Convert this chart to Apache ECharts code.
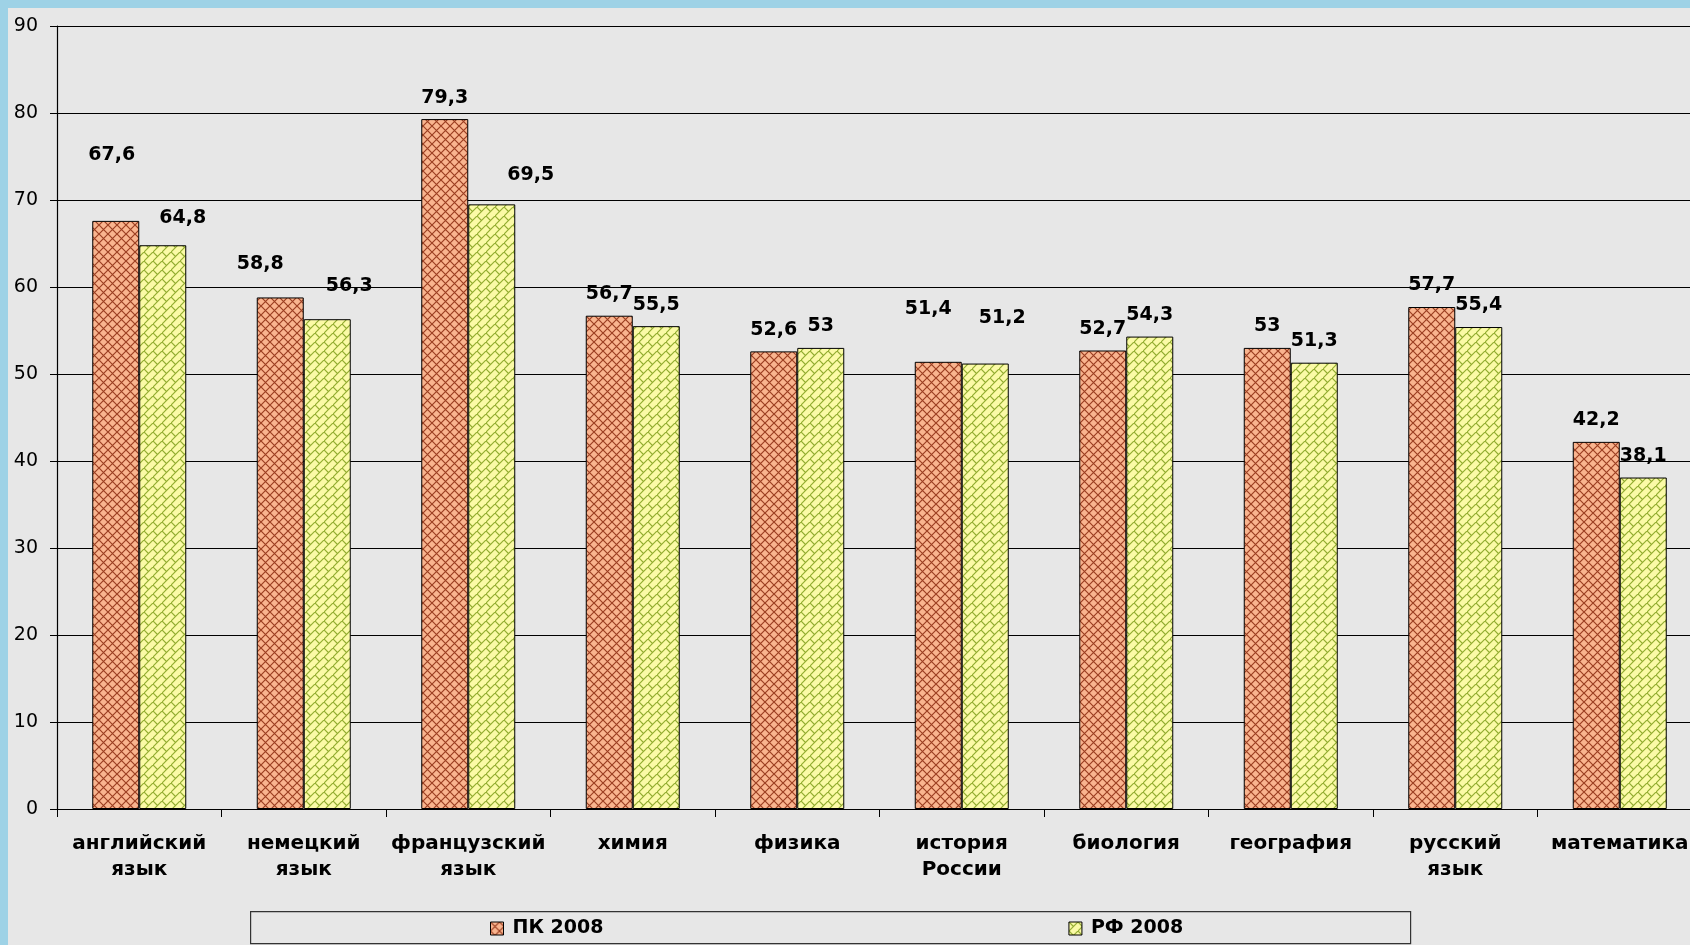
<!DOCTYPE html>
<html>
<head>
<meta charset="utf-8">
<script src="https://cdn.jsdelivr.net/npm/echarts@6/dist/echarts.min.js"></script>
<style>
html,body{margin:0;padding:0;width:1690px;height:945px;overflow:hidden;background:#9ed2e6;}
#bg{position:absolute;left:8px;top:8px;width:1682px;height:937px;background:#e7e7e7;}
#chart{position:absolute;left:0;top:0;width:1730px;height:945px;}
</style>
</head>
<body>
<div id="bg"></div>
<div id="chart"></div>
<script>
// ---- data ----
const categories = ['английский\nязык','немецкий\nязык','французский\nязык','химия','физика','история\nРоссии','биология','география','русский\nязык','математика'];
const seriesNames = ['ПК 2008','РФ 2008'];
const pk2008 = [67.6, 58.8, 79.3, 56.7, 52.6, 51.4, 52.7, 53, 57.7, 42.2];
const rf2008 = [64.8, 56.3, 69.5, 55.5, 53, 51.2, 54.3, 51.3, 55.4, 38.1];
const yTicks = [0,10,20,30,40,50,60,70,80,90];

// ---- label nudges (style, relative offsets in px) ----
const pkLabelShift = [[-4,-44],[-20,-12],[0,0],[0,0],[0,0],[-10,-31],[0,0],[0,0],[0,0],[0,0]];
const rfLabelShift = [[20,-6],[22,-12],[39,-8],[0,0],[0,0],[17,-24],[0,0],[0,0],[0,0],[0,0]];

function makePattern(bg, line, kind){
  const c = document.createElement('canvas');
  const s = 9;
  c.width = s; c.height = s;
  const g = c.getContext('2d');
  g.fillStyle = bg; g.fillRect(0,0,s,s);
  g.strokeStyle = line; g.lineWidth = 1.2;
  g.beginPath();
  if (kind === 'cross'){
    g.moveTo(-1,-1); g.lineTo(s+1,s+1);
    g.moveTo(-1,s+1); g.lineTo(s+1,-1);
  } else {
    g.moveTo(-1,s+1); g.lineTo(s+1,-1);
    g.moveTo(0,0); g.lineTo(4.5,4.5);
  }
  g.stroke();
  return {image: c, repeat: 'repeat'};
}
const pkFill = makePattern('#f9b48e', '#9c3f22', 'cross');
const rfFill = makePattern('#fbfaa6', '#93ad30', 'brick');

const fmt = p => String(p.value).replace('.', ',');
function build(vals, shifts){
  return vals.map((v,i) => ({value: v, label: {offset: shifts[i]}}));
}

const font = 'DejaVu Sans';
const chart = echarts.init(document.getElementById('chart'), null, {renderer:'canvas'});
chart.setOption({
  backgroundColor: 'transparent',
  animation: false,
  textStyle: {fontFamily: font},
  grid: {left: 57, top: 26, width: 1645, height: 783, containLabel: false},
  graphic: [{
    type: 'rect', left: 250, top: 911, z: 0,
    shape: {width: 1160, height: 32},
    style: {fill: 'transparent', stroke: '#333', lineWidth: 1.2}
  }],
  legend: {
    left: 485, top: 914, itemGap: 465,
    itemWidth: 13, itemHeight: 13, icon: 'rect',
    itemStyle: {borderColor: '#000', borderWidth: 1},
    textStyle: {fontFamily: font, fontSize: 19, fontWeight: 'bold', color: '#000', padding: [0,0,0,4]},
    data: seriesNames
  },
  xAxis: {
    type: 'category', data: categories,
    axisLine: {lineStyle: {color: '#000', width: 1.2}},
    axisTick: {show: true, length: 8, lineStyle: {color: '#000'}},
    axisLabel: {fontFamily: font, fontSize: 20, fontWeight: 'bold', color: '#000', lineHeight: 26, margin: 22, interval: 0}
  },
  yAxis: {
    type: 'value', min: yTicks[0], max: yTicks[yTicks.length-1], interval: 10,
    axisLine: {show: true, lineStyle: {color: '#000', width: 1.2}},
    axisTick: {show: true, length: 7, lineStyle: {color: '#000'}},
    axisLabel: {fontFamily: font, fontSize: 19, color: '#000', margin: 19},
    splitLine: {show: true, lineStyle: {color: '#000', width: 1.2}}
  },
  series: [
    {
      name: seriesNames[0], type: 'bar', data: build(pk2008, pkLabelShift),
      barWidth: 47, barGap: '0%',
      itemStyle: {color: pkFill, borderColor: '#000', borderWidth: 1},
      label: {show: true, position: 'top', distance: 12, formatter: fmt,
              fontFamily: font, fontSize: 19, fontWeight: 'bold', color: '#000'}
    },
    {
      name: seriesNames[1], type: 'bar', data: build(rf2008, rfLabelShift),
      barWidth: 47, barGap: '0%',
      itemStyle: {color: rfFill, borderColor: '#000', borderWidth: 1},
      label: {show: true, position: 'top', distance: 12, formatter: fmt,
              fontFamily: font, fontSize: 19, fontWeight: 'bold', color: '#000'}
    }
  ]
});
</script>
</body>
</html>
